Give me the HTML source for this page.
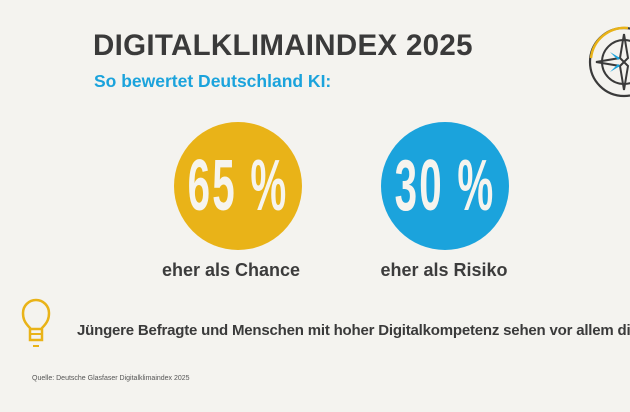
<!DOCTYPE html>
<html><head><meta charset="utf-8"><style>
body{margin:0;width:630px;height:412px;background:#f4f3ef;font-family:"Liberation Sans",sans-serif;overflow:hidden;position:relative}
.a{position:absolute;white-space:nowrap}
.c{position:absolute;width:128px;height:128px;border-radius:50%}
.n{position:absolute;left:-46px;width:220px;top:26px;text-align:center;color:#f6f4ee;font-weight:bold;font-size:72px;line-height:76px;transform:scaleX(0.56);transform-origin:center;letter-spacing:4px;white-space:nowrap}
.l{font-weight:bold;font-size:18px;color:#3c3c3c;width:200px;text-align:center}
</style></head><body>
<div class="a" style="left:93px;top:29px;font-size:29.5px;font-weight:bold;color:#3a3a3a;letter-spacing:0.3px">DIGITALKLIMAINDEX 2025</div>
<div class="a" style="left:94px;top:71px;font-size:17.5px;font-weight:bold;color:#1ba3dc">So bewertet Deutschland KI:</div>
<svg class="a" style="left:586px;top:22px" width="44" height="80" viewBox="0 0 44 80">
<circle cx="38" cy="40" r="34" fill="none" stroke="#3a3a3a" stroke-width="2.2"/>
<path d="M42 6 A34 34 0 0 0 5 36" fill="none" stroke="#e9b318" stroke-width="2.5"/>
<circle cx="38" cy="40" r="22" fill="none" stroke="#3a3a3a" stroke-width="2"/>
<path d="M38 12 L42 36 L38 40 L34 36 Z M38 68 L42 44 L38 40 L34 44 Z M10 40 L34 36 L38 40 L34 44 Z" fill="none" stroke="#3a3a3a" stroke-width="2"/>
<path d="M24 30 L34 36 L32 38 Z M24 50 L34 44 L32 42 Z" fill="#1ba3dc"/>
</svg>
<div class="c" style="left:174px;top:122px;background:#e9b318"><div class="n">65&nbsp;%</div></div>
<div class="c" style="left:381px;top:122px;background:#1ba3dc"><div class="n">30&nbsp;%</div></div>
<div class="a l" style="left:131px;top:260px">eher als Chance</div>
<div class="a l" style="left:344px;top:260px">eher als Risiko</div>
<svg class="a" style="left:20px;top:298px" width="32" height="54" viewBox="0 0 32 54">
<path d="M10 30 C4 24 3 20 3 15 A13 13 0 0 1 29 15 C29 20 28 24 22 30 L22 42 L10 42 Z" fill="none" stroke="#e9b318" stroke-width="2.5"/>
<line x1="9" y1="31" x2="23" y2="31" stroke="#e9b318" stroke-width="2.5"/>
<line x1="11" y1="36" x2="21" y2="36" stroke="#e9b318" stroke-width="2"/>
<line x1="13" y1="48" x2="19" y2="48" stroke="#e9b318" stroke-width="2"/>
</svg>
<div class="a" style="left:77px;top:322px;width:553px;overflow:hidden;font-size:15px;font-weight:bold;color:#3a3a3a;letter-spacing:-0.2px">Jüngere Befragte und Menschen mit hoher Digitalkompetenz sehen vor allem die</div>
<div class="a" style="left:32px;top:375px;font-size:7px;color:#555">Quelle: Deutsche Glasfaser Digitalklimaindex 2025</div>
</body></html>
